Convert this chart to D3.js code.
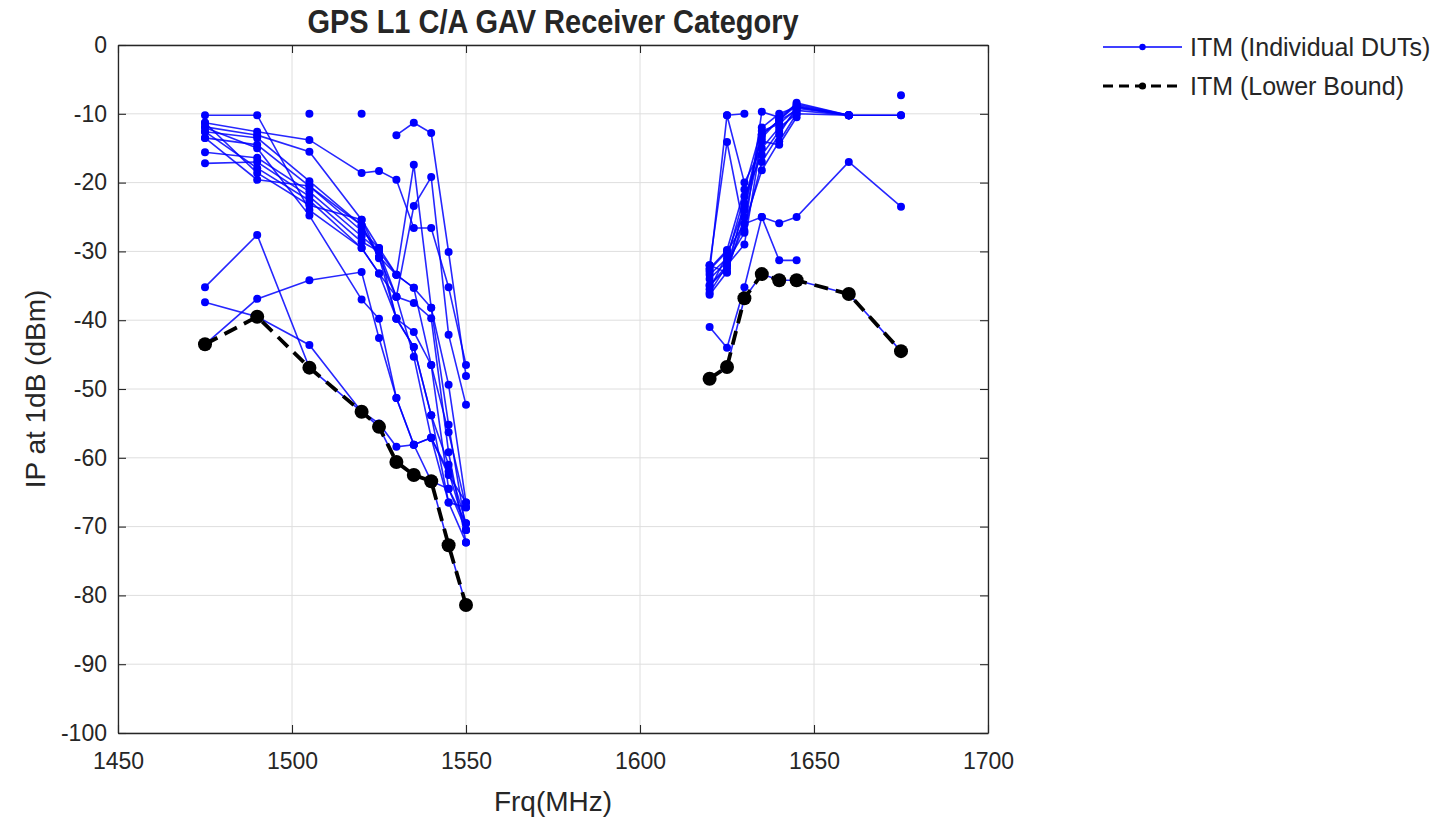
<!DOCTYPE html>
<html>
<head>
<meta charset="utf-8">
<script src="https://cdn.jsdelivr.net/npm/d3@7"></script>
<style>
  html, body { margin: 0; padding: 0; background: #fff; }
  svg { display: block; }
  text { font-family: "Liberation Sans", Arial, Helvetica, sans-serif; fill: #262626; }
</style>
</head>
<body>
<svg id="chart" width="1448" height="822"></svg>
<script>
// ---------------- data ----------------
const freqs = [1475,1490,1505,1520,1525,1530,1535,1540,1545,1550,1620,1625,1630,1635,1640,1645,1660,1675];

const dut01 = [-10.2,-10.2,-24.0,-29.5,-33.2,-39.7,-43.9,-53.8,-61.0,-69.5, -32.0,-14.1,-27.0,-17.0,-13.0,-9.0,-10.2,-10.2];
const dut02 = [-11.3,-12.6,-13.8,-18.6,-18.3,-19.6,-26.6,-26.6,-35.2,-46.5, -33.0,-10.2,-20.0,-15.0,-12.0,-10.0,-10.2,null];
const dut03 = [-11.9,-13.1,-15.5,-25.4,-30.8,-33.4,-17.4,-38.2,-49.4,-66.5, -34.0,-31.5,-27.3,-9.7,-10.5,-8.6,-10.2,null];
const dut04 = [-12.6,-13.5,-19.8,-26.2,-31.0,-36.6,-23.4,-19.2,-42.1,-52.3, -35.0,-32.0,-24.0,-13.0,-11.0,-8.4,-10.2,null];
const dut05 = [-13.5,-14.5,-20.5,-27.0,-29.5,-39.8,-41.7,-46.5,-56.3,-67.2, -36.3,-33.0,-25.0,-14.0,-14.5,-10.5,null,null];
const dut06 = [-15.6,-16.4,-21.3,-27.8,-30.0,-33.4,-35.3,-38.2,-55.2,-70.5, -41.0,-44.0,-35.2,-25.0,-25.9,-25.0,-17.0,-23.5];
const dut07 = [-17.2,-17.0,-22.0,-28.6,-30.0,-36.6,-37.5,-39.7,-59.2,-72.3, -32.7,-30.0,-26.0,-25.0,-31.3,-31.3,null,null];
const dut08 = [-12.6,-17.9,-22.6,-29.5,-33.2,-36.6,-45.3,-57.1,-62.5,-66.5, -32.5,-29.8,-21.0,-12.0,-10.0,-9.0,-10.2,null];
const dut09 = [-11.3,-18.6,-23.3,-25.4,-29.5,-33.4,-35.3,-46.5,-64.5,-69.5, -33.4,-31.0,-22.0,-16.0,-12.5,-9.5,null,null];
const dut10 = [-13.5,-19.6,-20.5,-26.2,-30.8,-39.8,-43.9,-53.8,-66.5,-67.2, -34.9,-32.5,-26.0,-18.2,-14.0,-10.0,null,null];
const dut11 = [-35.2,-27.6,-46.9,-53.3,-55.5,-60.6,-62.5,-63.4,-72.7,-81.4, -48.5,-46.8,-36.8,-33.3,-34.2,-34.2,-36.2,-44.5];
const dut12 = [-37.4,-39.5,-43.6,-53.3,-55.0,-58.4,-58.1,-57.1,-62.0,-70.5, null,-10.2,-10.0,null,null,null,null,-7.3];
const dut13 = [-43.5,-36.9,-34.2,-33.0,-42.6,-51.3,-58.1,-63.4,-64.5,-70.5, -32.0,-33.1,-23.0,-12.5,-11.5,-9.2,-10.2,null];
const dut14 = [null,null,-10.0,null,null,-13.1,-11.3,-12.8,-30.1,-48.1, null,null,null,null,null,null,null,null];
const dut15 = [null,null,null,-10.0,null,null,null,null,null,null, -36.0,-32.0,-29.0,-13.5,-10.8,-8.8,-10.2,null];
const dut16 = [-12.0,-15.0,-24.8,-37.0,-39.8,-51.3,-58.1,-57.1,-66.5,-72.3, -35.5,-30.5,-23.5,-13.0,-11.0,-9.5,-10.2,-10.2];

const lowerBound = [-43.5,-39.5,-46.9,-53.3,-55.5,-60.6,-62.5,-63.4,-72.7,-81.4, -48.5,-46.8,-36.8,-33.3,-34.2,-34.2,-36.2,-44.5];

const xTicks = [1450,1500,1550,1600,1650,1700];
const yTicks = [0,-10,-20,-30,-40,-50,-60,-70,-80,-90,-100];
const titleText = "GPS L1 C/A GAV Receiver Category";
const xLabel = "Frq(MHz)";
const yLabel = "IP at 1dB (dBm)";
const legendLabels = ["ITM (Individual DUTs)", "ITM (Lower Bound)"];

const duts = [dut01,dut02,dut03,dut04,dut05,dut06,dut07,dut08,dut09,dut10,dut11,dut12,dut13,dut14,dut15,dut16];

// ---------------- layout ----------------
const L = 118, R = 988, T = 45, B = 733;
const svg = d3.select("#chart");
const x = d3.scaleLinear().domain([1450,1700]).range([L,R]);
const y = d3.scaleLinear().domain([-100,0]).range([B,T]);

const blue = "#0000ff";
const axisColor = "#262626";
const bandSplit = 1600; // measurements were taken in two separate bands

// grid
const grid = svg.append("g");
grid.selectAll("line.gx").data(xTicks).join("line")
  .attr("x1", d => x(d)).attr("x2", d => x(d)).attr("y1", T).attr("y2", B)
  .attr("stroke", "#dedede").attr("stroke-width", 1);
grid.selectAll("line.gy").data(yTicks).join("line")
  .attr("x1", L).attr("x2", R).attr("y1", d => y(d)).attr("y2", d => y(d))
  .attr("stroke", "#dedede").attr("stroke-width", 1);

// axes with inward ticks
const tickLen = 8;
const fmt = d => String(d);
const axB = svg.append("g").attr("transform", `translate(0,${B})`)
  .call(d3.axisBottom(x).tickValues(xTicks).tickSizeInner(-tickLen).tickSizeOuter(0).tickPadding(20).tickFormat(fmt));
const axT = svg.append("g").attr("transform", `translate(0,${T})`)
  .call(d3.axisTop(x).tickValues(xTicks).tickSizeInner(-tickLen).tickSizeOuter(0).tickFormat(""));
const axL = svg.append("g").attr("transform", `translate(${L},0)`)
  .call(d3.axisLeft(y).tickValues(yTicks).tickSizeInner(-tickLen).tickSizeOuter(0).tickPadding(11).tickFormat(fmt));
const axR = svg.append("g").attr("transform", `translate(${R},0)`)
  .call(d3.axisRight(y).tickValues(yTicks).tickSizeInner(-tickLen).tickSizeOuter(0).tickFormat(""));
[axB,axT,axL,axR].forEach(a => {
  a.select(".domain").attr("stroke", axisColor).attr("stroke-width", 1.3);
  a.selectAll(".tick line").attr("stroke", axisColor).attr("stroke-width", 1.1);
  a.selectAll(".tick text").attr("fill", axisColor).style("font-size", "23px")
    .style("font-family", '"Liberation Sans", Arial, sans-serif');
});
axB.selectAll(".tick text").attr("dy", "0.71em");

// series (each band drawn as its own segment)
const line = d3.line().defined(d => d.v !== null).x(d => x(d.f)).y(d => y(d.v));
const plot = svg.append("g");
duts.forEach(s => {
  const pts = freqs.map((f,i) => ({f, v: s[i]}));
  [pts.filter(p => p.f < bandSplit), pts.filter(p => p.f > bandSplit)].forEach(seg => {
    plot.append("path").datum(seg).attr("d", line)
      .attr("fill", "none").attr("stroke", blue).attr("stroke-width", 1.6).attr("stroke-opacity", 0.85);
  });
  plot.selectAll(null).data(pts.filter(p => p.v !== null)).join("circle")
    .attr("cx", p => x(p.f)).attr("cy", p => y(p.v)).attr("r", 4).attr("fill", blue);
});

// lower bound
const lbPts = freqs.map((f,i) => ({f, v: lowerBound[i]}));
[lbPts.filter(p => p.f < bandSplit), lbPts.filter(p => p.f > bandSplit)].forEach(seg => {
  plot.append("path").datum(seg).attr("d", line)
    .attr("fill", "none").attr("stroke", "#000").attr("stroke-width", 3.8)
    .attr("stroke-dasharray", "14,8");
});
plot.selectAll(null).data(lbPts).join("circle")
  .attr("cx", p => x(p.f)).attr("cy", p => y(p.v)).attr("r", 7).attr("fill", "#000");

// title & labels
svg.append("text").attr("x", (L+R)/2).attr("y", 33).attr("text-anchor", "middle")
  .attr("transform", `translate(${(L+R)/2},33) scale(1,1.12) translate(${-(L+R)/2},-33)`)
  .style("font-size", "29px").style("font-weight", "bold").attr("fill", "#000").text(titleText);
svg.append("text").attr("x", (L+R)/2).attr("y", 811).attr("text-anchor", "middle")
  .style("font-size", "28px").text(xLabel);
svg.append("text").attr("transform", `translate(45,${(T+B)/2}) rotate(-90)`).attr("text-anchor", "middle")
  .style("font-size", "28px").text(yLabel);

// legend
const lg = svg.append("g");
const lx1 = 1103, lx2 = 1182, ly = [47, 86];
lg.append("line").attr("x1", lx1).attr("x2", lx2).attr("y1", ly[0]).attr("y2", ly[0])
  .attr("stroke", blue).attr("stroke-width", 1.5);
lg.append("circle").attr("cx", (lx1+lx2)/2).attr("cy", ly[0]).attr("r", 3.2).attr("fill", blue);
lg.append("line").attr("x1", lx1).attr("x2", lx2).attr("y1", ly[1]).attr("y2", ly[1])
  .attr("stroke", "#000").attr("stroke-width", 3.2).attr("stroke-dasharray", "10,6");
lg.append("circle").attr("cx", (lx1+lx2)/2).attr("cy", ly[1]).attr("r", 3.6).attr("fill", "#000");
legendLabels.forEach((t,i) => {
  lg.append("text").attr("x", 1190).attr("y", ly[i]).attr("dy", "0.36em")
    .style("font-size", "25px").attr("fill", "#000").text(t);
});
</script>
</body>
</html>
